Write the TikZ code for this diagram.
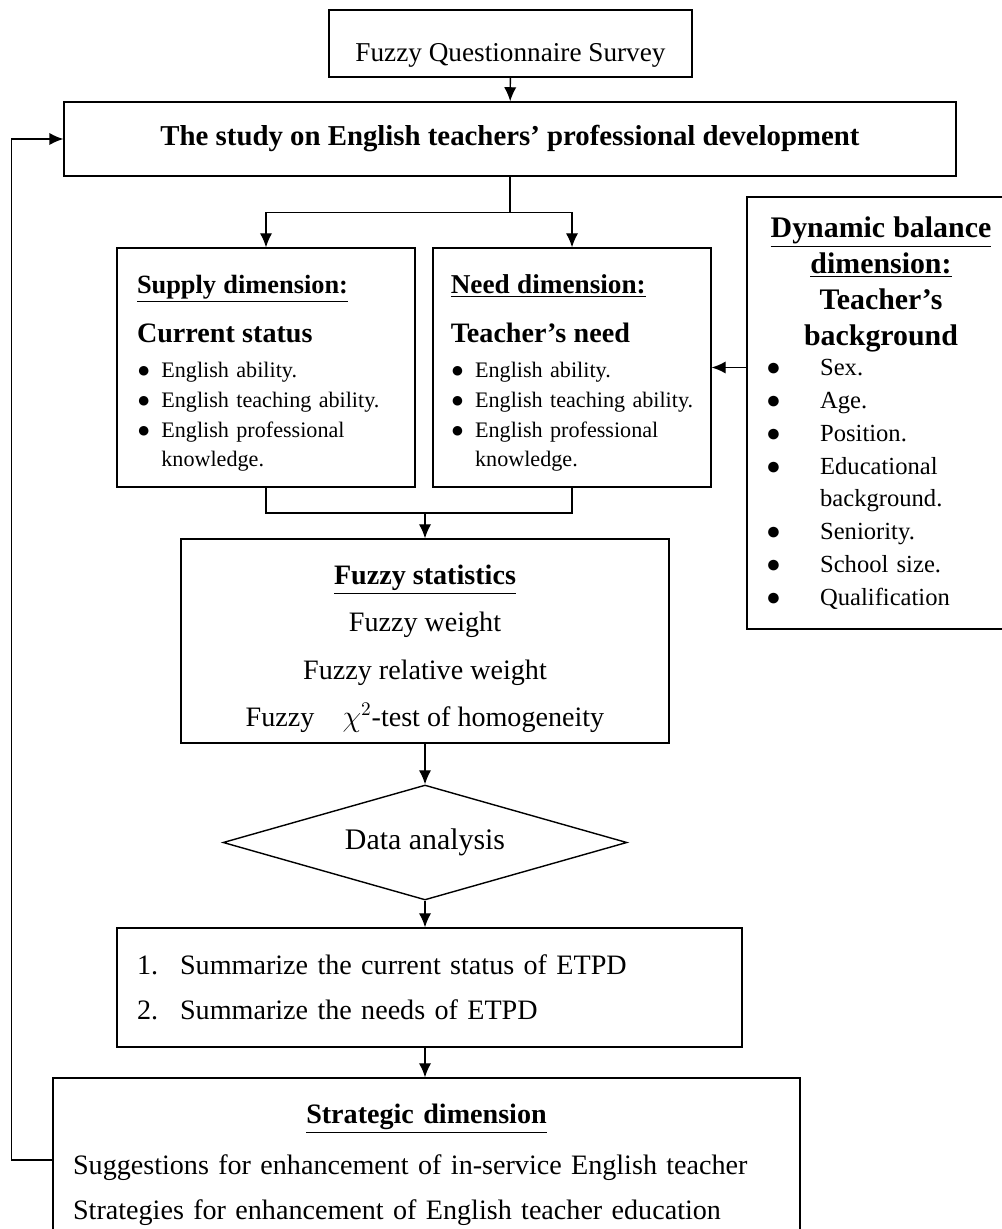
\documentclass[tikz,border=0pt]{standalone}
\usepackage{fontspec}
\setmainfont{Liberation Serif}
\usepackage{tikz}
\usetikzlibrary{arrows.meta, positioning, shapes.geometric}

\newcommand{\fsz}[2]{\fontsize{#1}{#2}\selectfont}
\newcommand{\puce}[2][1.1em]{\makebox[#1][l]{●}#2}
\newcommand{\milieu}[1]{\makebox[\linewidth][c]{#1}}
\newcommand{\hautligne}[1]{\rule{0pt}{#1}}

\begin{document}
\begin{tikzpicture}[
                x=0.02cm, y=-0.02cm,
                box/.style={draw, rectangle, line width=0.8pt, inner sep=0pt},
                link/.style={line width=0.8pt},
                arr/.style={line width=0.8pt, -{Latex[length=8pt, width=7pt]}}
            ]
            \useasboundingbox (0,0) rectangle (1001,1229);

            % Haut : enquete et etude
            \node[box, minimum width=7.26cm, minimum height=1.34cm, text height=0.87cm, text depth=0.13cm, font=\fsz{15.5}{18}] (survey) at (510.5,43.5) {Fuzzy Questionnaire Survey};
            \node[box, minimum width=17.84cm, minimum height=1.48cm, font=\fsz{16.4}{19}\bfseries] (study) at (510,139) {The study on English teachers’ professional development};

            % Niveau 1 : offre, besoin, equilibre
            \node[box, minimum width=5.96cm, minimum height=4.78cm, text width=5.16cm, align=left, font=\fsz{12.6}{17}] (supply) at (266,367.5) {%
                \hautligne{17pt}{\fsz{15}{17}\bfseries\underline{Supply dimension:}}\\[10.9pt]
                {\fsz{16}{17}\bfseries Current status}\\[3pt]
                \puce{English ability.}\\
                \puce{English teaching ability.}\\
                \puce{English professional}\\
                \hspace*{1.1em}knowledge.};
            \node[box, minimum width=5.56cm, minimum height=4.78cm, text width=4.85cm, align=left, font=\fsz{12.6}{17}] (need) at (572,367.5) {%
                \hautligne{17pt}{\fsz{15.5}{17}\bfseries\underline{Need dimension:}}\\[10.9pt]
                {\fsz{16}{17}\bfseries Teacher’s need}\\[3pt]
                \puce{English ability.}\\
                \puce{English teaching ability.}\\
                \puce{English professional}\\
                \hspace*{1.1em}knowledge.};
            \node[box, minimum width=5.36cm, minimum height=8.64cm, text width=4.6cm, align=left, font=\fsz{14}{18.7}] (dynamic) at (881,413) {%
                {\fsz{17}{20.5}\bfseries
                \milieu{\underline{Dynamic balance}}\\
                \milieu{\underline{dimension:}}\\
                \milieu{Teacher’s}\\
                \milieu{background}\par}
                \vspace{-1.5pt}
                \puce[2.2em]{Sex.}\\
                \puce[2.2em]{Age.}\\
                \puce[2.2em]{Position.}\\
                \puce[2.2em]{Educational}\\
                \hspace*{2.2em}background.\\
                \puce[2.2em]{Seniority.}\\
                \puce[2.2em]{School size.}\\
                \puce[2.2em]{Qualification}};

            % Niveau 2 : statistiques floues
            \node[box, minimum width=9.76cm, minimum height=4.08cm, align=center, font=\fsz{16}{26.9}] (stats) at (425,641) {%
                \hautligne{20pt}{\bfseries\underline{Fuzzy statistics}}\\
                Fuzzy weight\\
                Fuzzy relative weight\\
                Fuzzy\quad $\chi^2$-test of homogeneity};
            \node[draw, diamond, aspect=3.51, line width=0.8pt, inner sep=0pt, minimum width=8.08cm, minimum height=2.3cm, font=\fsz{17}{20}] (analysis) at (425,842.5) {Data analysis};

            % Niveau 3 : synthese et strategie
            \node[box, minimum width=12.5cm, minimum height=2.38cm, text width=11.7cm, align=left, font=\fsz{16}{25.6}] (summary) at (429.5,987.5) {%
                \makebox[24.5pt][l]{1.}Summarize the current status of ETPD\\
                \makebox[24.5pt][l]{2.}Summarize the needs of ETPD};
            \node[box, minimum width=14.94cm, minimum height=3.28cm, text width=14.14cm, align=left, font=\fsz{16}{25.6}] (strategic) at (426.5,1160) {%
                \hautligne{16.7pt}\milieu{\bfseries\underline{Strategic dimension}}\\[3.3pt]
                Suggestions for enhancement of in-service English teacher\\
                Strategies for enhancement of English teacher education};

            % Liaisons
            \draw[arr] (survey) -- (study);
            \draw[link] (study.south) -- ++(0,36) coordinate (split);
            \draw[arr] (split) -| (supply.north);
            \draw[arr] (split) -| (need.north);
            \coordinate (merge) at (425,513);
            \draw[link] (supply.south) |- (merge);
            \draw[link] (need.south) |- (merge);
            \draw[arr] (merge) -- (stats.north);
            \draw[arr] (dynamic.west |- need.east) -- (need.east);
            \draw[arr] (stats) -- (analysis);
            \draw[arr] (analysis) -- (analysis |- summary.north);
            \draw[arr] (summary.south -| analysis) -- (strategic.north -| analysis);
            % Retour vers l'etude
            \draw[arr] (strategic.west) -- ++(-41,0) |- (study.west);

        \end{tikzpicture}
\end{document}
